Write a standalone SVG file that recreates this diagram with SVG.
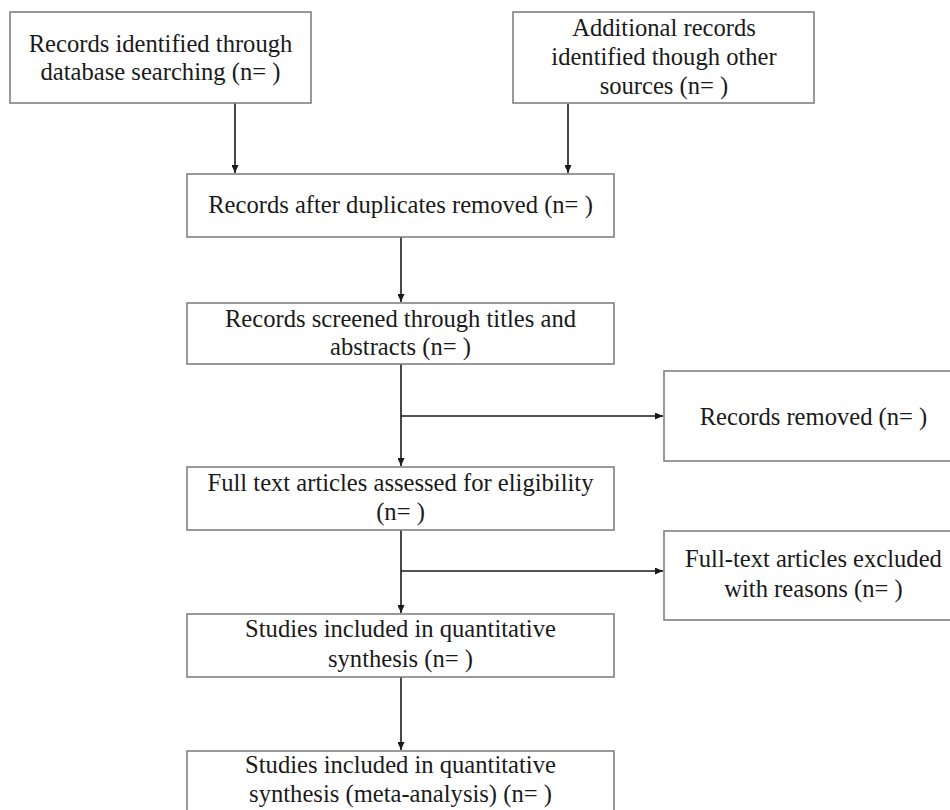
<svg xmlns="http://www.w3.org/2000/svg" width="950" height="810" viewBox="0 0 950 810">
<style>
.box{fill:#fff;stroke:#808080;stroke-width:1.6}
.t{font-family:"Liberation Serif","Times New Roman",serif;font-size:24.6px;fill:#1a1a1a;text-anchor:middle}
.c{stroke:#1a1a1a;stroke-width:1.6;fill:none}
</style>
<defs>
<marker id="ah" viewBox="0 0 10 10" refX="10" refY="5" markerWidth="8" markerHeight="7" orient="auto" markerUnits="userSpaceOnUse" preserveAspectRatio="none">
<path d="M0,0 L10,5 L0,10 z" fill="#1a1a1a"/>
</marker>
</defs>
<rect width="950" height="810" fill="#fff"/>
<g id="connectors">
<line class="c" x1="235" y1="103" x2="235" y2="173" marker-end="url(#ah)"/>
<line class="c" x1="568" y1="104" x2="568" y2="173" marker-end="url(#ah)"/>
<line class="c" x1="401" y1="237" x2="401" y2="302" marker-end="url(#ah)"/>
<line class="c" x1="401" y1="364" x2="401" y2="466" marker-end="url(#ah)"/>
<line class="c" x1="401" y1="416" x2="663" y2="416" marker-end="url(#ah)"/>
<line class="c" x1="401" y1="530" x2="401" y2="613" marker-end="url(#ah)"/>
<line class="c" x1="401" y1="571" x2="663" y2="571" marker-end="url(#ah)"/>
<line class="c" x1="401" y1="677" x2="401" y2="750" marker-end="url(#ah)"/>
</g>
<g id="n1"><rect class="box" x="10" y="12" width="301" height="91"/>
<text class="t" x="160.5" y="52">Records identified through</text>
<text class="t" x="160.5" y="80">database searching (n= )</text></g>
<g id="n2"><rect class="box" x="513" y="12" width="301" height="91"/>
<text class="t" x="664" y="36">Additional records</text>
<text class="t" x="664" y="65">identified though other</text>
<text class="t" x="664" y="94">sources (n= )</text></g>
<g id="n3"><rect class="box" x="187" y="174" width="427" height="63"/>
<text class="t" x="400.5" y="213">Records after duplicates removed (n= )</text></g>
<g id="n4"><rect class="box" x="187" y="303" width="427" height="61"/>
<text class="t" x="400.5" y="327">Records screened through titles and</text>
<text class="t" x="400.5" y="355">abstracts (n= )</text></g>
<g id="n5"><rect class="box" x="664" y="371" width="300" height="90"/>
<text class="t" x="813.5" y="425">Records removed (n= )</text></g>
<g id="n6"><rect class="box" x="187" y="467" width="427" height="63"/>
<text class="t" x="400.5" y="491">Full text articles assessed for eligibility</text>
<text class="t" x="400.5" y="520">(n= )</text></g>
<g id="n7"><rect class="box" x="664" y="531" width="300" height="89"/>
<text class="t" x="813.5" y="567">Full-text articles excluded</text>
<text class="t" x="813.5" y="597">with reasons (n= )</text></g>
<g id="n8"><rect class="box" x="187" y="614" width="427" height="63"/>
<text class="t" x="400.5" y="637">Studies included in quantitative</text>
<text class="t" x="400.5" y="667">synthesis (n= )</text></g>
<g id="n9"><rect class="box" x="187" y="751" width="427" height="70"/>
<text class="t" x="400.5" y="773">Studies included in quantitative</text>
<text class="t" x="400.5" y="802">synthesis (meta-analysis) (n= )</text></g>
</svg>
